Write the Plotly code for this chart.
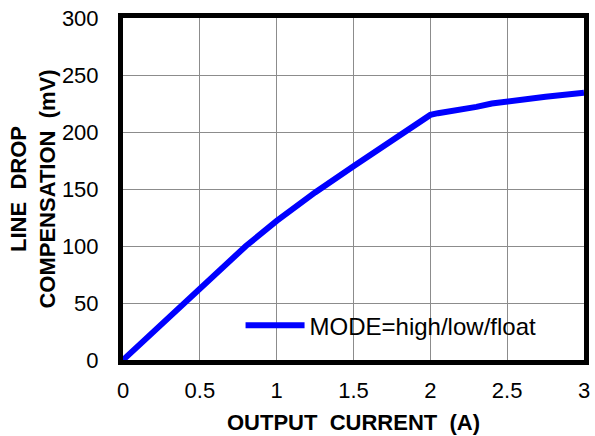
import plotly.graph_objects as go

# Data
current_a = [0, 0.2, 0.4, 0.6, 0.8, 1.0, 1.25, 1.5, 1.75, 2.0, 2.05, 2.1, 2.2, 2.3, 2.4, 2.5, 2.75, 3.0]
comp_mv = [0, 25, 50, 75, 100, 122, 147, 170, 193, 215, 216.5, 217.5, 220, 222, 225, 227, 231, 234.5]
series_name = "MODE=high/low/float"
x_ticks = [0, 0.5, 1, 1.5, 2, 2.5, 3]
x_tick_text = ["0", "0.5", "1", "1.5", "2", "2.5", "3"]
y_ticks = [0, 50, 100, 150, 200, 250, 300]

FONT = "Liberation Sans, Arial, sans-serif"

fig = go.Figure()
fig.add_trace(go.Scatter(
    x=current_a, y=comp_mv, mode="lines", name=series_name,
    line=dict(color="#0000ff", width=6),
    showlegend=True,
))

axis_common = dict(
    showgrid=True, gridcolor="#8c8c8c", gridwidth=1.3,
    showline=True, linecolor="black", linewidth=5, mirror=True,
    zeroline=False, ticks="", automargin=False, ticklabeloverflow="allow",
    tickfont=dict(family=FONT, size=22, color="black"),
)

# white panel behind the legend (covers gridlines, as in the reference)
fig.add_shape(
    type="rect", xref="paper", yref="paper",
    x0=0.195, x1=0.948, y0=0.05, y1=0.175,
    fillcolor="white", line=dict(width=0), layer="between",
)

fig.update_layout(
    width=595, height=436,
    margin=dict(l=123, r=11, t=18, b=76),
    paper_bgcolor="white", plot_bgcolor="white",
    font=dict(family=FONT, color="black"),
    showlegend=True,
    legend=dict(
        x=0.255, y=0.035, xanchor="left", yanchor="bottom",
        bgcolor="rgba(0,0,0,0)", borderwidth=0,
        font=dict(family=FONT, size=24, color="black"),
        itemwidth=59,
    ),
    xaxis=dict(
        range=[0, 3], tickvals=x_ticks, ticktext=x_tick_text, ticklabelstandoff=7,
        title=dict(text="<b>OUTPUT\u00a0\u00a0CURRENT\u00a0\u00a0(A)</b>",
                   font=dict(family=FONT, size=22, color="black"), standoff=14),
        **axis_common,
    ),
    yaxis=dict(
        range=[0, 300], tickvals=y_ticks, ticklabelstandoff=15,
        title=dict(text="<b>LINE\u00a0\u00a0DROP<br>COMPENSATION\u00a0\u00a0(mV)</b>",
                   font=dict(family=FONT, size=22, color="black"), standoff=2),
        **axis_common,
    ),
)

# remove the default 8px page margin so the figure fills the window exactly
fig.write_html("out.html", config={"displayModeBar": False},
               post_script="document.body.style.margin='0';")
